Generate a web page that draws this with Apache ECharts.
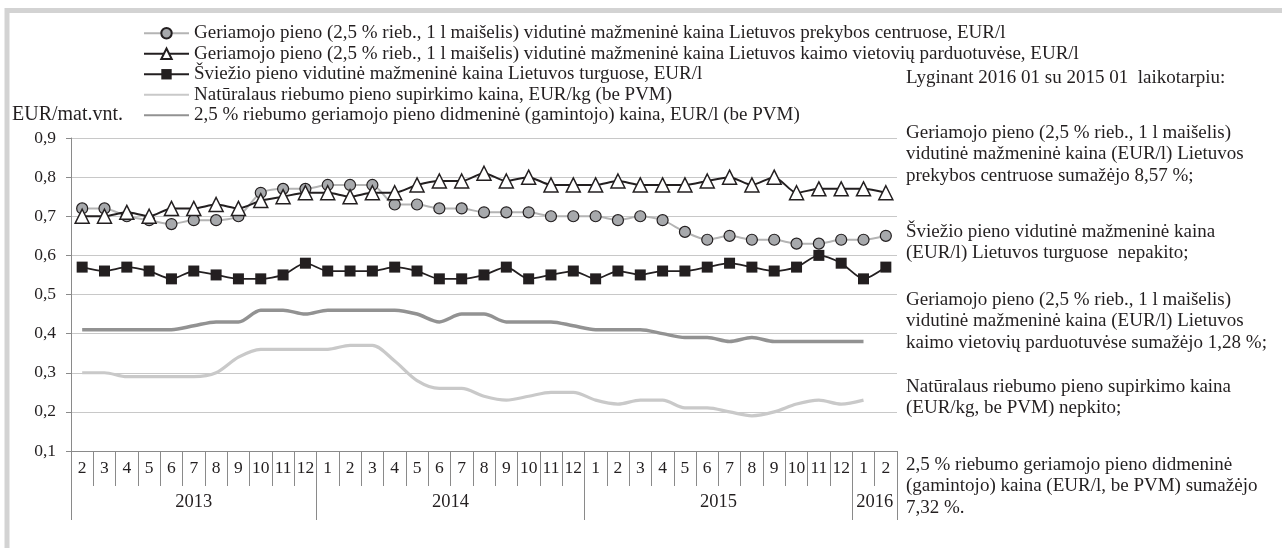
<!DOCTYPE html>
<html>
<head>
<meta charset="utf-8">
<title>Pieno kainos</title>
<script src="https://cdn.jsdelivr.net/npm/echarts@6.0.0/dist/echarts.min.js"></script>
<style>
  html, body { margin: 0; padding: 0; background: #fff; }
  #chart { width: 1282px; height: 548px; }
</style>
</head>
<body>
<div id="chart"></div>
<script>
// month labels 2013-02 .. 2016-02
const monthLabels = ['2','3','4','5','6','7','8','9','10','11','12',
  '1','2','3','4','5','6','7','8','9','10','11','12',
  '1','2','3','4','5','6','7','8','9','10','11','12',
  '1','2'];
const yearLabels = ['2013', '2014', '2015', '2016'];
const monthsPerYear = [11, 12, 12, 2];

const seriesNames = [
  'Geriamojo pieno (2,5 % rieb., 1 l maišelis) vidutinė mažmeninė kaina Lietuvos prekybos centruose, EUR/l',
  'Geriamojo pieno (2,5 % rieb., 1 l maišelis) vidutinė mažmeninė kaina Lietuvos kaimo vietovių parduotuvėse, EUR/l',
  'Šviežio pieno vidutinė mažmeninė kaina Lietuvos turguose, EUR/l',
  'Natūralaus riebumo pieno supirkimo kaina, EUR/kg (be PVM)',
  '2,5 % riebumo geriamojo pieno didmeninė (gamintojo) kaina, EUR/l (be PVM)'
];

const prekybosCentrai = [0.72, 0.72, 0.70, 0.69, 0.68, 0.69, 0.69, 0.70, 0.76, 0.77, 0.77,
  0.78, 0.78, 0.78, 0.73, 0.73, 0.72, 0.72, 0.71, 0.71, 0.71, 0.70, 0.70,
  0.70, 0.69, 0.70, 0.69, 0.66, 0.64, 0.65, 0.64, 0.64, 0.63, 0.63, 0.64,
  0.64, 0.65];
const kaimoParduotuves = [0.70, 0.70, 0.71, 0.70, 0.72, 0.72, 0.73, 0.72, 0.74, 0.75, 0.76,
  0.76, 0.75, 0.76, 0.76, 0.78, 0.79, 0.79, 0.81, 0.79, 0.80, 0.78, 0.78,
  0.78, 0.79, 0.78, 0.78, 0.78, 0.79, 0.80, 0.78, 0.80, 0.76, 0.77, 0.77,
  0.77, 0.76];
const turgus = [0.57, 0.56, 0.57, 0.56, 0.54, 0.56, 0.55, 0.54, 0.54, 0.55, 0.58,
  0.56, 0.56, 0.56, 0.57, 0.56, 0.54, 0.54, 0.55, 0.57, 0.54, 0.55, 0.56,
  0.54, 0.56, 0.55, 0.56, 0.56, 0.57, 0.58, 0.57, 0.56, 0.57, 0.60, 0.58,
  0.54, 0.57];
const supirkimas = [0.30, 0.30, 0.29, 0.29, 0.29, 0.29, 0.30, 0.34, 0.36, 0.36, 0.36,
  0.36, 0.37, 0.37, 0.33, 0.28, 0.26, 0.26, 0.24, 0.23, 0.24, 0.25, 0.25,
  0.23, 0.22, 0.23, 0.23, 0.21, 0.21, 0.20, 0.19, 0.20, 0.22, 0.23, 0.22,
  0.23];
const didmenine = [0.41, 0.41, 0.41, 0.41, 0.41, 0.42, 0.43, 0.43, 0.46, 0.46, 0.45,
  0.46, 0.46, 0.46, 0.46, 0.45, 0.43, 0.45, 0.45, 0.43, 0.43, 0.43, 0.42,
  0.41, 0.41, 0.41, 0.40, 0.39, 0.39, 0.38, 0.39, 0.38, 0.38, 0.38, 0.38,
  0.38];

const notes = [
  'Lyginant 2016 01 su 2015 01  laikotarpiu:',
  'Geriamojo pieno (2,5 % rieb., 1 l maišelis)\nvidutinė mažmeninė kaina (EUR/l) Lietuvos\nprekybos centruose sumažėjo 8,57 %;',
  'Šviežio pieno vidutinė mažmeninė kaina\n(EUR/l) Lietuvos turguose  nepakito;',
  'Geriamojo pieno (2,5 % rieb., 1 l maišelis)\nvidutinė mažmeninė kaina (EUR/l) Lietuvos\nkaimo vietovių parduotuvėse sumažėjo 1,28 %;',
  'Natūralaus riebumo pieno supirkimo kaina\n(EUR/kg, be PVM) nepkito;',
  '2,5 % riebumo geriamojo pieno didmeninė\n(gamintojo) kaina (EUR/l, be PVM) sumažėjo\n7,32 %.'
];
const notesTop = [67, 122, 221, 289, 376, 454];

// year boundaries and label centres on the month scale
const yearBounds = [0];
const yearCentres = [];
monthsPerYear.forEach(n => {
  const start = yearBounds[yearBounds.length - 1];
  yearCentres.push(start + n / 2);
  yearBounds.push(start + n);
});

const FONT = '"Liberation Serif", "Times New Roman", serif';
const TXT = '#231f20';
const AXIS = '#8a8a8a';

const chart = echarts.init(document.getElementById('chart'));

const titles = [{
  text: 'EUR/mat.vnt.',
  left: 12, top: 105, padding: 0,
  textStyle: { fontFamily: FONT, fontSize: 20, fontWeight: 'normal', color: TXT }
}];
notes.forEach((t, i) => {
  titles.push({
    text: t,
    left: 906, top: notesTop[i], padding: 0,
    textStyle: { fontFamily: FONT, fontSize: 19, fontWeight: 'normal', color: TXT, lineHeight: 21.5 }
  });
});

// plain line icons for the series without markers
const legendData = seriesNames.map((name, i) =>
  i < 3 ? { name: name } : { name: name, itemStyle: { opacity: 0 } });

const option = {
  animation: false,
  backgroundColor: '#fff',
  textStyle: { fontFamily: FONT, color: TXT },
  title: titles,
  graphic: [{
    // grey frame around the figure
    type: 'rect',
    shape: { x: 7, y: 10.5, width: 1300, height: 600 },
    style: { fill: null, stroke: '#d3d3d3', lineWidth: 5 },
    silent: true
  }],
  legend: {
    orient: 'vertical',
    left: 143, top: 23, padding: 0,
    itemWidth: 45, itemHeight: 13, itemGap: 0,
    textStyle: { fontFamily: FONT, fontSize: 19, color: TXT, lineHeight: 20.5 },
    data: legendData
  },
  grid: { left: 71, right: 385, top: 138, bottom: 97, containLabel: false },
  xAxis: [{
    type: 'category',
    data: monthLabels,
    boundaryGap: true,
    axisLine: { lineStyle: { color: AXIS, width: 1 } },
    axisTick: { show: true, interval: 0, length: 35, lineStyle: { color: AXIS } },
    axisLabel: { interval: 0, margin: 8, fontFamily: FONT, fontSize: 17.5, color: TXT }
  }, {
    type: 'value',
    min: 0, max: monthLabels.length,
    position: 'bottom',
    axisLine: { show: false },
    splitLine: { show: false },
    axisTick: { show: true, customValues: yearBounds, length: 69, lineStyle: { color: AXIS } },
    axisLabel: {
      customValues: yearCentres, margin: 42,
      fontFamily: FONT, fontSize: 18.5, color: TXT,
      formatter: v => yearLabels[yearCentres.indexOf(v)] || ''
    }
  }],
  yAxis: {
    type: 'value',
    min: 0.1, max: 0.9, interval: 0.1,
    axisLine: { show: true, lineStyle: { color: AXIS } },
    axisTick: { show: true, length: 5, lineStyle: { color: AXIS } },
    splitLine: { lineStyle: { color: '#c8c8c8', width: 1 } },
    axisLabel: {
      margin: 15, fontFamily: FONT, fontSize: 17.5, color: TXT,
      formatter: v => v.toFixed(1).replace('.', ',')
    }
  },
  series: [{
    name: seriesNames[0],
    type: 'line',
    data: prekybosCentrai,
    smooth: 0.25,
    symbol: 'circle', symbolSize: 11,
    lineStyle: { color: '#b4b4b4', width: 2 },
    itemStyle: { color: '#a7a9ac', borderColor: '#231f20', borderWidth: 1.2 }
  }, {
    name: seriesNames[1],
    type: 'line',
    data: kaimoParduotuves,
    smooth: 0.25,
    symbol: 'triangle', symbolSize: 14,
    lineStyle: { color: '#231f20', width: 2 },
    itemStyle: { color: '#ffffff', borderColor: '#231f20', borderWidth: 1.5 }
  }, {
    name: seriesNames[2],
    type: 'line',
    data: turgus,
    smooth: 0.25,
    symbol: 'rect', symbolSize: 11,
    lineStyle: { color: '#231f20', width: 1.8 },
    itemStyle: { color: '#231f20', borderColor: '#231f20', borderWidth: 0 }
  }, {
    name: seriesNames[3],
    type: 'line',
    data: supirkimas,
    smooth: 0.3,
    symbol: 'none',
    lineStyle: { color: '#c9c9c9', width: 3.2 },
    itemStyle: { color: '#c9c9c9' }
  }, {
    name: seriesNames[4],
    type: 'line',
    data: didmenine,
    smooth: 0.3,
    symbol: 'none',
    lineStyle: { color: '#929292', width: 3.5 },
    itemStyle: { color: '#929292' }
  }]
};

chart.setOption(option);
</script>
</body>
</html>
